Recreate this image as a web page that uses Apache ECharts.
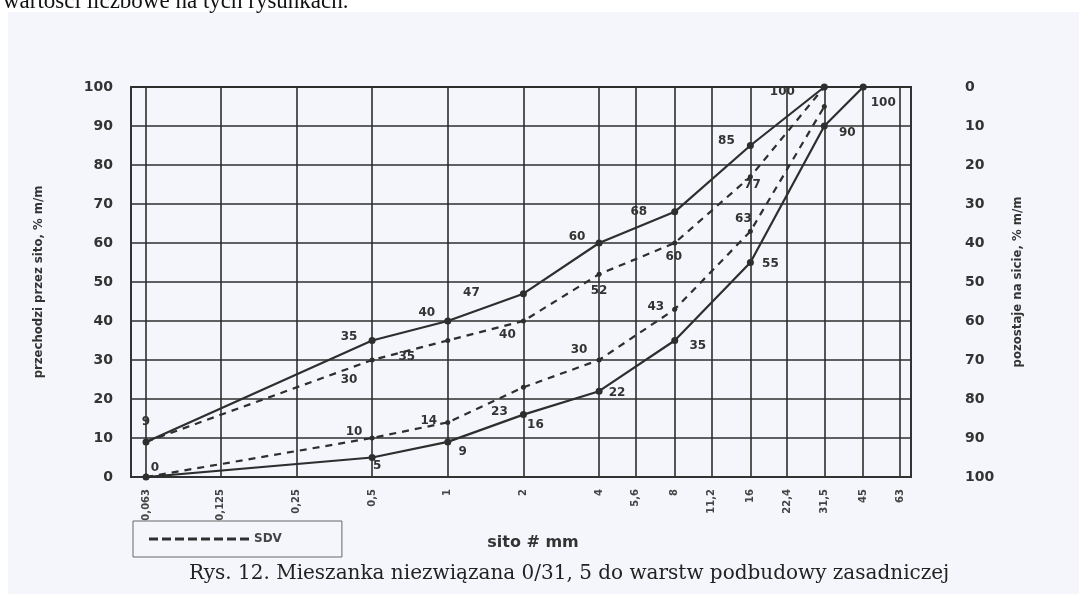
<!DOCTYPE html>
<html>
<head>
<meta charset="utf-8">
<script src="https://cdn.jsdelivr.net/npm/echarts@6/dist/echarts.min.js"></script>
<style>
  html, body { margin: 0; padding: 0; background: #fff; }
  #chart { width: 1079px; height: 594px; }
</style>
</head>
<body>
<div id="chart"></div>
<script>
'use strict'

// sieve sizes (mm) and their tick labels
var sieves = [0.063, 0.125, 0.25, 0.5, 1, 2, 4, 5.6, 8, 11.2, 16, 22.4, 31.5, 45, 63];
var sieveLabels = ['0,063', '0,125', '0,25', '0,5', '1', '2', '4', '5,6', '8', '11,2', '16', '22,4', '31,5', '45', '63'];

// grading limits, % passing
var upperSizes = [0.063, 0.5, 1, 2, 4, 8, 16, 31.5];
var upperLimit = [9, 35, 40, 47, 60, 68, 85, 100];
var lowerSizes = [0.063, 0.5, 1, 2, 4, 8, 16, 31.5, 45];
var lowerLimit = [0, 5, 9, 16, 22, 35, 55, 90, 100];

// SDV band (dashed)
var sdvUpper = [9, 30, 35, 40, 52, 60, 77, 100];
var sdvLower = [0, 10, 14, 23, 30, 43, 63, 95];

// label offsets from each point (null = no label)
var upperLimitOff = [[0, -20], [-23, -4], [-21, -8], [-52, -1], [-22, -6], [-36, 0], [-24, -5], [-42, 5]];
var lowerLimitOff = [[9, -9], [5, 8], [15, 10], [12, 10], [18, 2], [23, 5], [20, 1], [23, 7], [20, 16]];
var sdvUpperOff = [null, [-23, 20], [-41, 16], [-16, 14], [0, 17], [-1, 14], [2, 8], null];
var sdvLowerOff = [null, [-18, -6], [-19, -2], [-24, 25], [-20, -10], [-19, -2], [-7, -12], null];

var ink = '#2e2e2e';

function points(xs, ys, offs) {
    return xs.map(function (x, i) {
        return {
            value: [x, ys[i]],
            label: { show: !!offs[i], offset: offs[i] || [0, 0] }
        };
    });
}

var pointLabel = {
    show: true,
    position: 'inside',
    formatter: function (p) { return p.value[1]; },
    color: '#333',
    fontSize: 12,
    fontWeight: 'bold',
    fontFamily: 'DejaVu Sans'
};

var chart = echarts.init(document.getElementById('chart'));

chart.setOption({
    backgroundColor: '#fff',
    animation: false,
    graphic: [{
        type: 'rect',
        shape: { x: 8, y: 12, width: 1071, height: 582 },
        style: { fill: '#f4f6fb' },
        z: -10
    }],
    title: [{
        text: 'wartości liczbowe na tych rysunkach.',
        left: -2,
        top: -15,
        textStyle: { fontFamily: 'Liberation Serif', fontSize: 23, fontWeight: 'normal', color: '#111' }
    }, {
        text: 'Rys. 12. Mieszanka niezwiązana 0/31, 5 do warstw podbudowy zasadniczej',
        left: 184,
        top: 559,
        textStyle: { fontFamily: 'DejaVu Serif', fontSize: 20, fontWeight: 'normal', color: '#222' }
    }],
    legend: {
        data: [{ name: 'SDV' }],
        left: 133,
        top: 521,
        orient: 'horizontal',
        padding: [12, 60, 12, 16],
        borderColor: '#666',
        borderWidth: 1,
        itemWidth: 100,
        itemHeight: 3,
        itemGap: 10,
        icon: 'path://M0,0h9v3h-9z M13,0h9v3h-9z M26,0h9v3h-9z M39,0h9v3h-9z M52,0h9v3h-9z M65,0h9v3h-9z M78,0h9v3h-9z M91,0h9v3h-9z',
        textStyle: { fontFamily: 'DejaVu Sans', fontSize: 12, fontWeight: 'bold', color: '#444' }
    },
    grid: { left: 131, right: 168, top: 87, bottom: 117, show: true, borderColor: '#333', borderWidth: 2 },
    xAxis: {
        type: 'log',
        logBase: 2,
        min: 0.0549,
        max: 69.7,
        name: 'sito # mm',
        nameLocation: 'middle',
        nameGap: 58,
        nameTextStyle: { fontFamily: 'DejaVu Sans', fontSize: 16, fontWeight: 'bold', color: '#333', padding: [0, 0, 0, 24] },
        axisLine: { show: true, lineStyle: { color: '#333', width: 2 } },
        axisTick: { show: false, customValues: sieves },
        axisLabel: {
            customValues: sieves,
            rotate: 90,
            margin: 12,
            fontFamily: 'DejaVu Sans',
            fontSize: 10,
            fontWeight: 'bold',
            color: '#444',
            formatter: function (v) {
                var i = sieves.indexOf(+v);
                return i >= 0 ? sieveLabels[i] : '';
            }
        },
        splitLine: { show: true, lineStyle: { color: ink, width: 1.6 } }
    },
    yAxis: [{
        type: 'value',
        min: 0,
        max: 100,
        interval: 10,
        name: 'przechodzi przez sito, % m/m',
        nameLocation: 'middle',
        nameGap: 86,
        nameTextStyle: { fontFamily: 'Liberation Sans Narrow, DejaVu Sans Condensed, Liberation Sans', fontSize: 13, fontWeight: 'bold', color: '#333' },
        axisLine: { show: true, lineStyle: { color: '#333', width: 2 } },
        axisTick: { show: false },
        axisLabel: { margin: 18, fontFamily: 'DejaVu Sans', fontSize: 14, fontWeight: 'bold', color: '#333' },
        splitLine: { show: true, lineStyle: { color: ink, width: 1.6 } }
    }, {
        type: 'value',
        position: 'right',
        inverse: true,
        min: 0,
        max: 100,
        interval: 10,
        name: 'pozostaje na sicie, % m/m',
        nameLocation: 'middle',
        nameRotate: 90,
        nameGap: 100,
        nameTextStyle: { fontFamily: 'Liberation Sans Narrow, DejaVu Sans Condensed, Liberation Sans', fontSize: 13, fontWeight: 'bold', color: '#333' },
        axisLine: { show: false },
        axisTick: { show: false },
        axisLabel: { margin: 54, fontFamily: 'DejaVu Sans', fontSize: 14, fontWeight: 'bold', color: '#333' },
        splitLine: { show: false }
    }],
    series: [{
        name: 'upper',
        type: 'line',
        data: points(upperSizes, upperLimit, upperLimitOff),
        symbol: 'circle',
        symbolSize: 7,
        itemStyle: { color: ink },
        lineStyle: { color: ink, width: 2.2 },
        label: pointLabel,
        z: 5
    }, {
        name: 'lower',
        type: 'line',
        data: points(lowerSizes, lowerLimit, lowerLimitOff),
        symbol: 'circle',
        symbolSize: 7,
        itemStyle: { color: ink },
        lineStyle: { color: ink, width: 2.2 },
        label: pointLabel,
        z: 5
    }, {
        name: 'SDV',
        type: 'line',
        data: points(upperSizes, sdvUpper, sdvUpperOff),
        symbol: 'circle',
        symbolSize: 5,
        itemStyle: { color: ink },
        lineStyle: { color: ink, width: 2.2, type: [7, 6] },
        label: pointLabel,
        z: 4
    }, {
        name: 'SDV',
        type: 'line',
        data: points(upperSizes, sdvLower, sdvLowerOff),
        symbol: 'circle',
        symbolSize: 5,
        itemStyle: { color: ink },
        lineStyle: { color: ink, width: 2.2, type: [7, 6] },
        label: pointLabel,
        z: 4
    }]
});
</script>
</body>
</html>
